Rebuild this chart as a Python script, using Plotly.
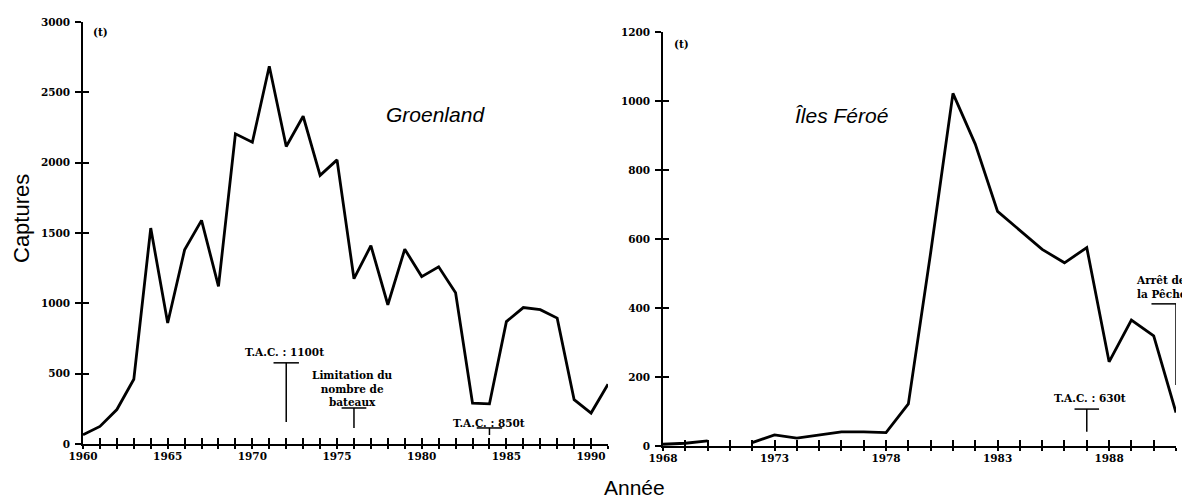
import plotly.graph_objects as go

# ---------------- data ----------------
years_gl = list(range(1960, 1992))
catch_gl = [65, 125, 245, 460, 1535, 860, 1380, 1590, 1120, 2205, 2145, 2685,
            2115, 2330, 1910, 2020, 1175, 1410, 990, 1385, 1190, 1260, 1075,
            290, 285, 870, 970, 955, 895, 315, 220, 425]

years_fo = list(range(1968, 1992))
catch_fo = [5, 8, 15, None, 10, 32, 23, 32, 41, 41, 39, 122, 560, 1022, 875,
            680, 625, 570, 531, 575, 244, 365, 319, 97]

xlabels_gl = [1960, 1965, 1970, 1975, 1980, 1985, 1990]
xlabels_fo = [1968, 1973, 1978, 1983, 1988]
yticks_gl = [0, 500, 1000, 1500, 2000, 2500, 3000]
yticks_fo = [0, 200, 400, 600, 800, 1000, 1200]

# management events (year, top, bottom)
tac_1100 = (1972, 577, 157)
limit_boats = (1976, 256, 114)
tac_850 = (1984, 114, 64)
tac_630 = (1987, 107, 41)
stop_fishing = (1991, 412, 177)

# the page body has an 8px margin: size the figure to fit the window
OFF = 8
W, H = 1190 - OFF, 501 - OFF


def px(p):
    return (p - OFF) / W


def py(p):
    return (H - (p - OFF)) / H


tick_font = dict(family="DejaVu Serif", size=10.5, color="black", weight="bold")
ann_font = dict(family="DejaVu Serif", size=10.5, color="black", weight="bold")

fig = go.Figure()
fig.add_trace(go.Scatter(x=years_gl, y=catch_gl, mode="lines",
                         line=dict(color="black", width=2.8),
                         xaxis="x", yaxis="y", showlegend=False))
fig.add_trace(go.Scatter(x=years_fo, y=catch_fo, mode="lines",
                         line=dict(color="black", width=2.8),
                         connectgaps=False,
                         xaxis="x2", yaxis="y2", showlegend=False))
# empty traces to register overlay axes (for crossing ticks)
for xa, ya in [("x3", "y"), ("x", "y3"), ("x4", "y2"), ("x2", "y4")]:
    fig.add_trace(go.Scatter(x=[], y=[], xaxis=xa, yaxis=ya, showlegend=False,
                             hoverinfo="skip"))

dom_x1 = [px(83), px(608)]
dom_y1 = [py(444), py(22)]
dom_x2 = [px(663), px(1176)]
dom_y2 = [py(446), py(32)]


def xaxis(dom, rng, labels, anchor):
    yrs = list(range(rng[0], rng[1] + 1))
    return dict(domain=dom, range=rng, anchor=anchor, tickmode="array",
                tickvals=yrs, ticktext=[str(y) if y in labels else "" for y in yrs],
                ticks="outside", ticklen=3, tickwidth=1.5, tickcolor="black",
                showline=True, linecolor="black", linewidth=1.5,
                showgrid=False, zeroline=False, tickfont=tick_font,
                ticklabelstandoff=-1, automargin=False)


def xaxis_in(rng, over, anchor):
    yrs = list(range(rng[0], rng[1] + 1))
    return dict(overlaying=over, anchor=anchor, range=rng, tickmode="array",
                tickvals=yrs, ticks="inside", ticklen=6, tickwidth=1.5,
                tickcolor="black", showticklabels=False, showline=False,
                showgrid=False, zeroline=False, automargin=False)


def yaxis(dom, rng, vals, anchor):
    return dict(domain=dom, range=rng, anchor=anchor, tickmode="array",
                tickvals=vals, ticks="outside", ticklen=6, tickwidth=1.5,
                tickcolor="black", showline=True, linecolor="black",
                linewidth=1.5, showgrid=False, zeroline=False,
                tickfont=tick_font, ticklabelstandoff=3, automargin=False)


def yaxis_in(rng, vals, over, anchor):
    return dict(overlaying=over, anchor=anchor, range=rng, tickmode="array",
                tickvals=vals, ticks="inside", ticklen=6, tickwidth=1.5,
                tickcolor="black", showticklabels=False, showline=False,
                showgrid=False, zeroline=False, automargin=False)


fig.update_layout(
    width=W, height=H, margin=dict(l=0, r=0, t=0, b=0, autoexpand=False),
    paper_bgcolor="white", plot_bgcolor="white",
    xaxis=xaxis(dom_x1, [1960, 1991], xlabels_gl, "y"),
    yaxis=yaxis(dom_y1, [0, 3000], yticks_gl, "x"),
    xaxis2=xaxis(dom_x2, [1968, 1991], xlabels_fo, "y2"),
    yaxis2=yaxis(dom_y2, [0, 1200], yticks_fo, "x2"),
    xaxis3=xaxis_in([1960, 1991], "x", "y"),
    yaxis3=yaxis_in([0, 3000], yticks_gl, "y", "x"),
    xaxis4=xaxis_in([1968, 1991], "x2", "y2"),
    yaxis4=yaxis_in([0, 1200], yticks_fo, "y2", "x2"),
)

shapes = []


def tbar(xr, yr, year, top, bottom, half):
    shapes.append(dict(type="line", xref=xr, yref=yr, x0=year - half, x1=year + half,
                       y0=top, y1=top, line=dict(color="black", width=1.5)))
    shapes.append(dict(type="line", xref=xr, yref=yr, x0=year, x1=year,
                       y0=top, y1=bottom, line=dict(color="black", width=1.5)))


tbar("x", "y", tac_1100[0], tac_1100[1], tac_1100[2], 0.75)
tbar("x", "y", limit_boats[0], limit_boats[1], limit_boats[2], 0.73)
tbar("x", "y", tac_850[0], tac_850[1], tac_850[2], 0.75)
tbar("x2", "y2", tac_630[0], tac_630[1], tac_630[2], 0.55)
# "Arrêt de la Pêche" bracket
shapes.append(dict(type="line", xref="x2", yref="y2", x0=stop_fishing[0] - 1.1,
                   x1=stop_fishing[0], y0=stop_fishing[1], y1=stop_fishing[1],
                   line=dict(color="black", width=1.5)))
shapes.append(dict(type="line", xref="x2", yref="y2", x0=stop_fishing[0],
                   x1=stop_fishing[0], y0=stop_fishing[1], y1=stop_fishing[2],
                   line=dict(color="black", width=1.5)))
fig.update_layout(shapes=shapes)

anns = [
    dict(xref="x", yref="y", x=1971.9, y=655, text="T.A.C. : 1100t", font=ann_font),
    dict(xref="x", yref="y", x=1975.9, y=392, text="Limitation du<br>nombre de<br>bateaux",
         font=ann_font),
    dict(xref="x", yref="y", x=1984.0, y=150, text="T.A.C. : 850t", font=ann_font),
    dict(xref="x2", yref="y2", x=1987.15, y=140, text="T.A.C. : 630t", font=ann_font),
    dict(xref="paper", yref="y2", x=px(1189), y=460, text="Arrêt de<br>la Pêche",
         font=ann_font, xanchor="right", align="left"),
    dict(xref="x", yref="y", x=1960.5, y=2927, text="(t)", font=ann_font, xanchor="left"),
    dict(xref="x2", yref="y2", x=1968.4, y=1165, text="(t)", font=ann_font, xanchor="left"),
    dict(xref="x", yref="y", x=1980.8, y=2339, text="<i>Groenland</i>",
         font=dict(family="Liberation Sans", size=21, color="black")),
    dict(xref="x2", yref="y2", x=1976.0, y=959, text="<i>Îles Féroé</i>",
         font=dict(family="Liberation Sans", size=21, color="black")),
    dict(xref="paper", yref="paper", x=px(21), y=py(219), text="Captures",
         textangle=-90, font=dict(family="Liberation Sans", size=22, color="black")),
    dict(xref="paper", yref="paper", x=px(634), y=py(487), text="Année",
         borderpad=0,
         font=dict(family="Liberation Sans", size=21, color="black")),
]
for a in anns:
    a.setdefault("xanchor", "center")
    a.setdefault("yanchor", "middle")
    a["showarrow"] = False
fig.update_layout(annotations=anns)

fig.write_html("out.html")
